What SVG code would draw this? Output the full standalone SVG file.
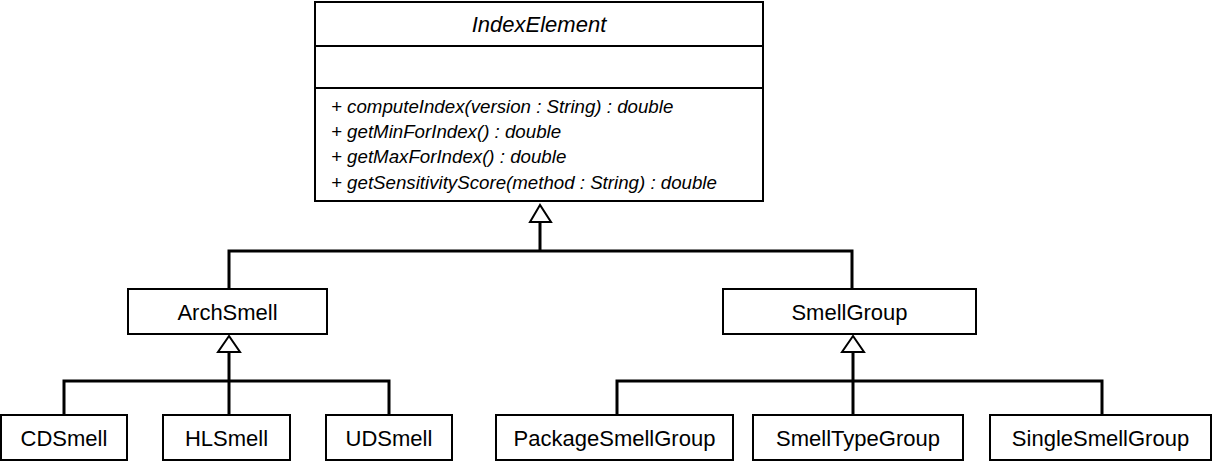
<svg xmlns="http://www.w3.org/2000/svg" width="1214" height="468" viewBox="0 0 1214 468">
<style>
.box{fill:#fff;stroke:#000;stroke-width:2}
.lbl{font-family:"Liberation Sans",Arial,sans-serif;font-size:22px;fill:#000;text-anchor:middle}
.it{font-family:"Liberation Sans",Arial,sans-serif;font-style:italic;fill:#000}
.ln{fill:none;stroke:#000;stroke-width:3}
.tri{fill:#fff;stroke:#000;stroke-width:2;stroke-linejoin:miter}
</style>
<rect width="1214" height="468" fill="#fff"/>
<g id="connectors">
<polyline class="ln" points="540,222 540,251"/>
<polyline class="ln" points="229,289 229,251 852,251 852,289"/>
<polygon class="tri" points="540,205 530,222 551,222"/>
<polyline class="ln" points="229,352 229,415"/>
<polyline class="ln" points="64,415 64,381 389,381 389,415"/>
<polygon class="tri" points="229,336 218,352 240,352"/>
<polyline class="ln" points="853,352 853,415"/>
<polyline class="ln" points="617,415 617,381 1102,381 1102,415"/>
<polygon class="tri" points="853,336 842,352 864,352"/>
</g>
<g id="IndexElement">
<rect class="box" x="315" y="2" width="448" height="199"/>
<line x1="315" y1="46" x2="763" y2="46" stroke="#000" stroke-width="2"/>
<line x1="315" y1="88" x2="763" y2="88" stroke="#000" stroke-width="2"/>
<text class="it" x="539" y="32" font-size="22" text-anchor="middle">IndexElement</text>
<text class="it" x="331" y="113" font-size="18.7">+ computeIndex(version : String) : double</text>
<text class="it" x="331" y="138" font-size="18.7">+ getMinForIndex() : double</text>
<text class="it" x="331" y="163" font-size="18.7">+ getMaxForIndex() : double</text>
<text class="it" x="331" y="189" font-size="18.7">+ getSensitivityScore(method : String) : double</text>
</g>
<g id="ArchSmell">
<rect class="box" x="128" y="289" width="199" height="45"/>
<text class="lbl" x="227.5" y="320">ArchSmell</text>
</g>
<g id="SmellGroup">
<rect class="box" x="723" y="289" width="253" height="45"/>
<text class="lbl" x="849.5" y="320">SmellGroup</text>
</g>
<g id="CDSmell">
<rect class="box" x="1" y="415" width="126" height="45"/>
<text class="lbl" x="64" y="446">CDSmell</text>
</g>
<g id="HLSmell">
<rect class="box" x="163" y="415" width="127" height="45"/>
<text class="lbl" x="226.5" y="446">HLSmell</text>
</g>
<g id="UDSmell">
<rect class="box" x="326" y="415" width="126" height="45"/>
<text class="lbl" x="389" y="446">UDSmell</text>
</g>
<g id="PackageSmellGroup">
<rect class="box" x="496" y="415" width="237" height="45"/>
<text class="lbl" x="614.5" y="446">PackageSmellGroup</text>
</g>
<g id="SmellTypeGroup">
<rect class="box" x="753" y="415" width="210" height="45"/>
<text class="lbl" x="858" y="446">SmellTypeGroup</text>
</g>
<g id="SingleSmellGroup">
<rect class="box" x="990" y="415" width="221" height="45"/>
<text class="lbl" x="1100.5" y="446">SingleSmellGroup</text>
</g>
</svg>
